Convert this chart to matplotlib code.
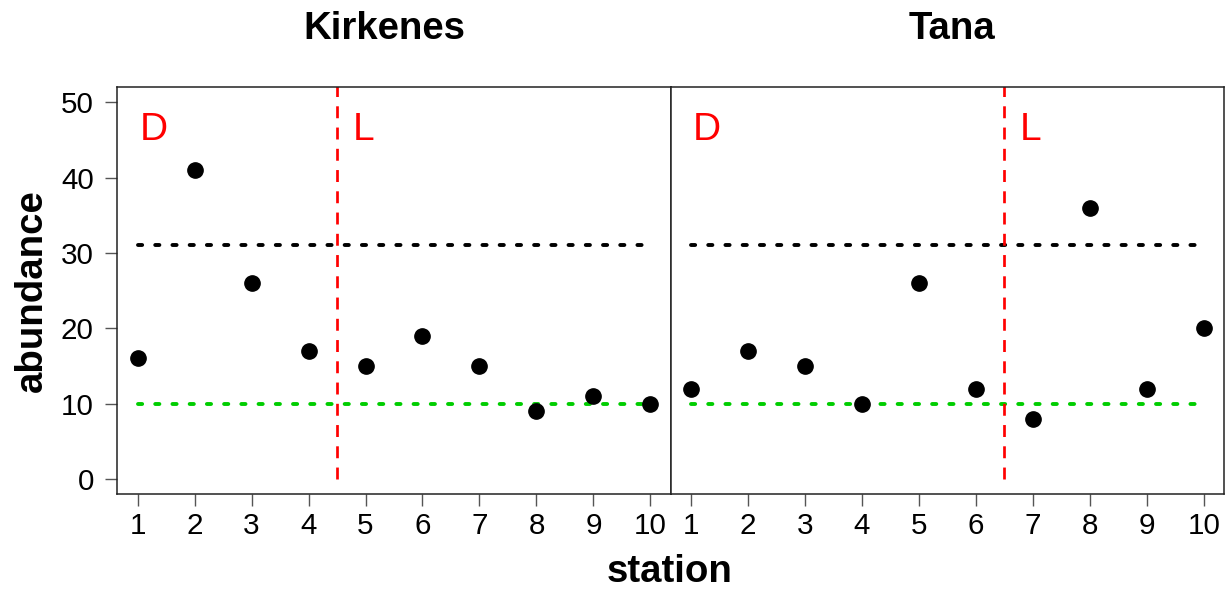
import matplotlib
matplotlib.use("Agg")
import matplotlib.pyplot as plt

plt.rcParams['font.family'] = ['Liberation Sans', 'DejaVu Sans']
plt.rcParams['lines.scale_dashes'] = False

stations = [1, 2, 3, 4, 5, 6, 7, 8, 9, 10]
kirkenes = [16, 41, 26, 17, 15, 19, 15, 9, 11, 10]
tana = [12, 17, 15, 10, 26, 12, 8, 36, 12, 20]
panels = ["Kirkenes", "Tana"]
dividers = [4.5, 6.5]
upper_ref = 31
lower_ref = 10
yticks = [0, 10, 20, 30, 40, 50]

W, H = 1231, 590
fig = plt.figure(figsize=(W / 100, H / 100), dpi=100)

ax_l = 117.3 / W
ax_w = 553.4 / W
ax_b = 1 - 494 / H
ax_h = (494 - 87.3) / H

axes = [fig.add_axes([ax_l, ax_b, ax_w, ax_h]),
        fig.add_axes([ax_l + ax_w, ax_b, ax_w, ax_h])]

data = [kirkenes, tana]
title_x = [384 / W, 952 / W]

for i, ax in enumerate(axes):
    vals = data[i]
    ax.set_xlim(0.644, 10.356)
    ax.set_ylim(-2, 52)
    # reference lines
    ax.plot([stations[0], stations[-1]], [upper_ref, upper_ref], color='black',
            lw=2.8, dashes=(3.0, 9.4), dash_capstyle='round', solid_capstyle='round')
    ax.plot([stations[0], stations[-1]], [lower_ref, lower_ref], color='#00CD00',
            lw=2.8, dashes=(3.0, 9.4), dash_capstyle='round', solid_capstyle='round')
    ax.plot([dividers[i], dividers[i]], [0, 60], color='red', lw=1.95,
            dashes=(8.6, 6.7), dash_capstyle='butt')
    ax.plot(stations, vals, 'o', color='black', markersize=11, linestyle='none',
            zorder=5)
    ax.text(1.03, 45, "D", color='red', fontsize=28, ha='left', va='baseline')
    ax.text(dividers[i] + 0.27, 45, "L", color='red', fontsize=28, ha='left', va='baseline')

    ax.set_xticks(stations)
    ax.set_xticklabels([str(s) for s in stations])
    ax.tick_params(axis='x', length=8.6, width=1.0, color='#555555',
                   labelsize=21.3, pad=4.6, direction='out')
    if i == 0:
        ax.set_yticks(yticks)
        ax.set_yticklabels([str(t) for t in yticks])
        ax.tick_params(axis='y', length=8.6, width=1.0, color='#555555',
                       labelsize=21.3, pad=8.3, direction='out')
    else:
        ax.set_yticks([])
    for sp in ax.spines.values():
        sp.set_color('#222222')
        sp.set_linewidth(1.1)
    fig.text(title_x[i], 1 - 39 / H, panels[i], fontsize=27.6, fontweight='bold',
             ha='center', va='baseline')

fig.text(670 / W, 1 - 582 / H, "station", fontsize=27.6, fontweight='bold',
         ha='center', va='baseline')
fig.text(42 / W, 1 - 290.5 / H, "abundance", fontsize=27.6, fontweight='bold',
         ha='center', va='baseline', rotation=90, rotation_mode='anchor')

fig.savefig("out.png", dpi=100)
